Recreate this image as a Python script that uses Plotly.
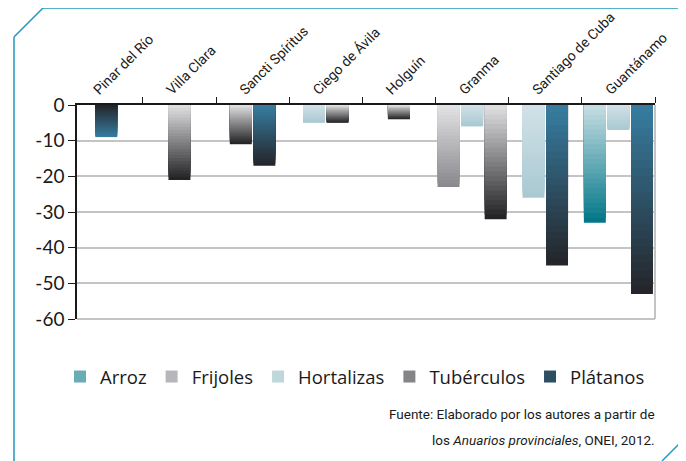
import plotly.graph_objects as go

# provincias y variación por cultivo (%)
categories = ["Pinar del Río", "Villa Clara", "Sancti Spíritus", "Ciego de Ávila",
              "Holguín", "Granma", "Santiago de Cuba", "Guantánamo"]
arroz      = [None, None, None, None, None, None, None, -33]
frijoles   = [None, None, None, None, None, -23, None, None]
hortalizas = [None, None, None, -5, None, -6, -26, -7]
tuberculos = [None, -21, -11, -5, -4, -32, None, None]
platanos   = [-9, None, -17, None, None, None, -45, -53]

y_ticks = [0, -10, -20, -30, -40, -50, -60]

# nombre, valores, color arriba, color abajo (degradado)
series = [
    ("Arroz",      arroz,      (200, 222, 228), (0, 118, 135)),
    ("Frijoles",   frijoles,   (228, 228, 230), (135, 135, 140)),
    ("Hortalizas", hortalizas, (210, 226, 231), (168, 200, 209)),
    ("Tubérculos", tuberculos, (226, 226, 228), (32, 32, 34)),
    ("Plátanos",   platanos,   (55, 126, 162), (36, 36, 40)),
]

# bars whose gradient runs the other way in the original
flipped = {("Plátanos", "Pinar del Río")}

N_SLICES = 24
BAR_W    = 0.30
STEP     = 0.322

# the page puts the figure 8px in from the corner; targets are in window pixels
OFF = 8
W, H = 686, 461
L, R, T, B = 77 - OFF, 655 - OFF, 105 - OFF, 319 - OFF

NARROW = "Roboto, sans-serif"


def px(x):
    return (x - OFF - L) / (R - L)


def py(y):
    return (B - (y - OFF)) / (B - T)


def mix(a, b, t):
    return "rgb(%d,%d,%d)" % tuple(round(a[c] + (b[c] - a[c]) * t) for c in range(3))


counts = [sum(1 for s in series if s[1][j] is not None) for j in range(len(categories))]

fig = go.Figure()

for k, (name, vals, top, bot) in enumerate(series):

    offsets = []
    for j, v in enumerate(vals):
        slot = sum(1 for s in series[:k] if s[1][j] is not None)
        offsets.append((slot - counts[j] / 2) * STEP + (STEP - BAR_W) / 2)

    # overlapping bars, longest first, to fake the vertical gradient
    for i in range(N_SLICES):
        frac = (N_SLICES - i) / N_SLICES
        t = frac - 0.5 / N_SLICES
        colors = [mix(bot, top, t) if (name, c) in flipped else mix(top, bot, t) for c in categories]
        fig.add_trace(
            go.Bar(
                x           = categories,
                y           = [v * frac if v is not None else None for v in vals],
                offset      = offsets,
                width       = BAR_W,
                marker      = dict(color = colors, line = dict(width = 0)),
                name        = name,
                legendgroup = name,
                showlegend  = (i == N_SLICES // 2),
                hoverinfo   = "skip",
            )
        )

frame = "#2196bd"
lines = [
    ((14, 470), (14, 37)),
    ((14, 37), (43, 8)),
    ((43, 8), (700, 8)),
    ((662, 461), (700, 423)),
]
shapes = [
    dict(type = "line", xref = "paper", yref = "paper",
         x0 = px(a[0]), y0 = py(a[1]), x1 = px(b[0]), y1 = py(b[1]),
         line = dict(color = frame, width = 1.5))
    for a, b in lines
]
shapes.append(dict(type = "line", xref = "paper", yref = "paper", x0 = 1, x1 = 1, y0 = 0, y1 = 1,
                   line = dict(color = "#c4c4c4", width = 2)))
shapes.append(dict(type = "line", xref = "paper", yref = "paper", x0 = 0, x1 = 1, y0 = 0, y1 = 0,
                   line = dict(color = "#c4c4c4", width = 2), layer = "below"))

fig.update_layout(
    width         = W,
    height        = H,
    margin        = dict(l = L, r = W - R, t = T, b = H - B),
    paper_bgcolor = "white",
    plot_bgcolor  = "white",
    barmode       = "overlay",
    font          = dict(family = "Lato, sans-serif", color = "#1a1a1a", size = 17),
    shapes        = shapes,
    showlegend    = True,
    legend        = dict(
        orientation = "h",
        x           = px(60),
        xanchor     = "left",
        y           = py(377),
        yanchor     = "middle",
        font        = dict(family = "Open Sans, sans-serif", size = 18.5),
        itemwidth   = 30,
        traceorder  = "normal",
    ),
    xaxis         = dict(
        type           = "category",
        side           = "top",
        range          = [-0.4, 7.5],
        showline       = True,
        linecolor      = "#1a1a1a",
        linewidth      = 1.5,
        ticks          = "outside",
        tickson        = "boundaries",
        ticklen        = 6,
        tickcolor      = "#1a1a1a",
        tickangle      = -45,
        ticklabelshift = -12,
        tickfont       = dict(family = NARROW, size = 14),
        showgrid       = False,
        automargin     = False,
        fixedrange     = True,
    ),
    yaxis         = dict(
        range      = [-60, 0],
        tickvals   = y_ticks,
        ticktext   = [str(v) for v in y_ticks],
        showline   = True,
        linecolor  = "#1a1a1a",
        linewidth  = 1.5,
        ticks      = "outside",
        ticklen    = 7,
        tickcolor  = "#1a1a1a",
        showgrid   = True,
        gridcolor  = "#c4c4c4",
        gridwidth  = 2,
        zeroline   = False,
        tickfont   = dict(size = 19),
        automargin = False,
        fixedrange = True,
    ),
    annotations   = [
        dict(xref = "paper", yref = "paper", x = px(657), y = py(414), xanchor = "right", yanchor = "middle",
             showarrow = False, text = "Fuente: Elaborado por los autores a partir de",
             font = dict(family = NARROW, size = 13.5)),
        dict(xref = "paper", yref = "paper", x = px(657), y = py(440), xanchor = "right", yanchor = "middle",
             showarrow = False, text = "los <i>Anuarios provinciales</i>, ONEI, 2012.",
             font = dict(family = NARROW, size = 13.5)),
    ],
)

fig.write_html("out.html")
